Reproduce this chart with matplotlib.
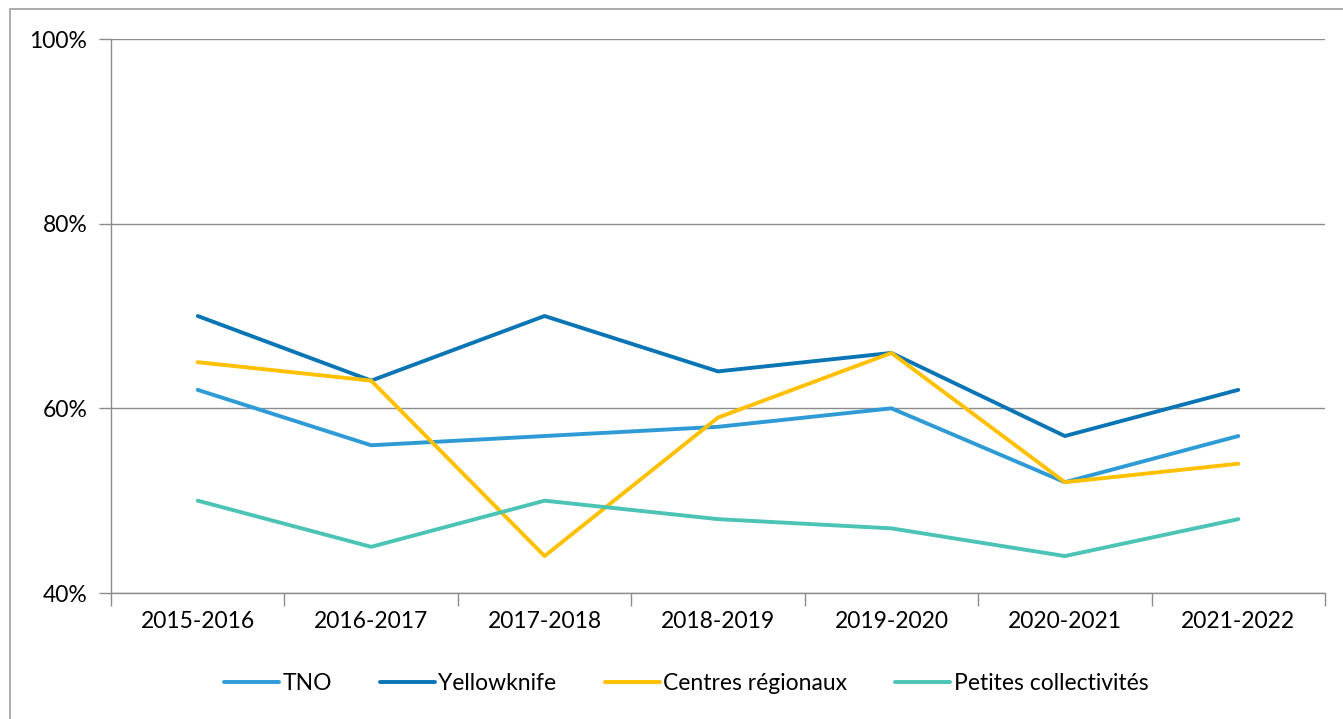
import matplotlib
matplotlib.use("Agg")
import matplotlib.pyplot as plt
from matplotlib.patches import Rectangle
from matplotlib.ticker import FixedLocator, NullFormatter

categories = ["2015-2016", "2016-2017", "2017-2018", "2018-2019", "2019-2020", "2020-2021", "2021-2022"]
tno = [62, 56, 57, 58, 60, 52, 57]
yellowknife = [70, 63, 70, 64, 66, 57, 62]
centres = [65, 63, 44, 59, 66, 52, 54]
petites = [50, 45, 50, 48, 47, 44, 48]
series_names = ["TNO", "Yellowknife", "Centres régionaux", "Petites collectivités"]
colors = ["#2E9AD6", "#0A75B5", "#FFC000", "#4BC3B5"]

plt.rcParams['font.family'] = ['Lato', 'DejaVu Sans']

W, H = 1343, 719
fig = plt.figure(figsize=(W / 100, H / 100), dpi=100)
ax = fig.add_axes([111 / W, 1 - 593 / H, (1325 - 111) / W, (593 - 39) / H])

x = list(range(len(categories)))
for vals, name, c in zip([tno, yellowknife, centres, petites], series_names, colors):
    ax.plot(x, vals, color=c, lw=2.8, label=name, solid_capstyle='round', solid_joinstyle='round', zorder=3)

ax.set_xlim(-0.5, len(categories) - 0.5)
ax.set_ylim(40, 100)
ax.set_yticks([40, 60, 80, 100])
ax.set_yticklabels([f"{v}%" for v in [40, 60, 80, 100]])
ax.yaxis.grid(True, color="#8C8C8C", lw=1.0)
ax.set_axisbelow(True)

FS = 16.5
ax.set_xticks(x)
ax.set_xticklabels(categories)
ax.tick_params(axis='x', which='major', length=0, pad=13, labelsize=FS, colors='black')
ax.xaxis.set_minor_locator(FixedLocator([i - 0.5 for i in range(len(categories) + 1)]))
ax.xaxis.set_minor_formatter(NullFormatter())
ax.tick_params(axis='x', which='minor', length=9, width=1, color='#8C8C8C')
ax.tick_params(axis='y', length=9, width=1, color='#8C8C8C', pad=8, labelsize=FS, labelcolor='black')

for s in ['top', 'right']:
    ax.spines[s].set_visible(False)
for s in ['left', 'bottom']:
    ax.spines[s].set_color('#8C8C8C')
    ax.spines[s].set_linewidth(1.0)

fig.legend(loc='center', bbox_to_anchor=(686 / W, 1 - 684 / H), ncol=4, frameon=False,
           fontsize=FS, handlelength=2.4, handletextpad=0.15, columnspacing=2.1)

fig.patches.append(Rectangle((10 / W, -0.1), 1.2, 1 - 9 / H + 0.1, transform=fig.transFigure,
                             fill=False, edgecolor='#A6A6A6', lw=1.3, clip_on=False))

fig.savefig("out.png", dpi=100)
